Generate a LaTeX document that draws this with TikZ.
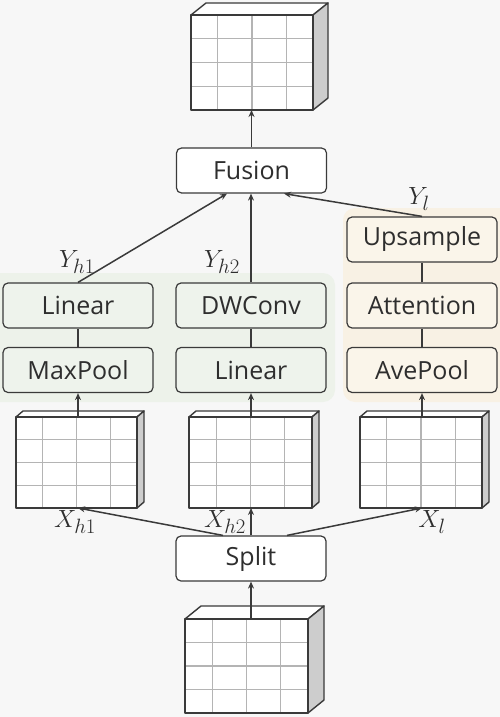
\documentclass[tikz,border=0pt]{standalone}
\usepackage{fontspec}
\setmainfont{Open Sans}
\usetikzlibrary{positioning, arrows.meta, calc}

\definecolor{pagebg}{HTML}{F7F7F7}
\definecolor{edgegray}{HTML}{3A3A3A}
\definecolor{textgray}{HTML}{2E2E2E}
\definecolor{gridgray}{HTML}{B4B4B4}
\definecolor{sidegray}{HTML}{CDCDCD}
\definecolor{greenbg}{HTML}{EDF2EA}
\definecolor{greenfill}{HTML}{EEF3EC}
\definecolor{beigebg}{HTML}{F8F1E4}
\definecolor{beigefill}{HTML}{FAF5EA}

\tikzset{
    cubeface/.style={rectangle, fill=white, inner sep=0pt, outer sep=0pt},
    gridline/.style={draw=gridgray, line width=1.1pt},
    cubeedge/.style={draw=edgegray, line width=1.4pt, line join=round}
}

% feature map block: name, centre, width, height, depth x, depth y
\newcommand{\featcube}[6]{%
    \node[cubeface, minimum width=#3pt, minimum height=#4pt] (#1) at #2 {};
    \filldraw[cubeedge, fill=white] (#1.north west) -- ++(#5,-#6) -- ++(#3,0)
        -- (#1.north east) -- cycle;
    \filldraw[cubeedge, fill=sidegray] (#1.north east) -- ++(#5,-#6) -- ++(0,#4)
        -- (#1.south east) -- cycle;
    \foreach \f in {0.22,0.5,0.78}
        \draw[gridline] ($(#1.north west)!\f!(#1.north east)$)
            -- ($(#1.south west)!\f!(#1.south east)$);
    \foreach \f in {0.25,0.5,0.75}
        \draw[gridline] ($(#1.north west)!\f!(#1.south west)$)
            -- ($(#1.north east)!\f!(#1.south east)$);
    \draw[cubeedge] (#1.north west) rectangle (#1.south east);
}

\begin{document}
\begin{tikzpicture}[
    x=1pt, y=-1pt,
    box/.style={
        rectangle,
        draw=edgegray,
        fill=white,
        minimum width=150pt,
        minimum height=45pt,
        rounded corners=5pt,
        line width=1.2pt,
        text=textgray,
        font=\fontsize{25}{29}\selectfont
    },
    greenbox/.style={box, fill=greenfill},
    beigebox/.style={box, fill=beigefill},
    link/.style={
        line width=1.5pt,
        color=edgegray
    },
    arrow/.style={
        link,
        -{Stealth[length=7pt, width=6pt]}
    },
    mathlbl/.style={
        text=textgray,
        font=\fontsize{28}{32}\selectfont,
        inner sep=1pt
    }
]

% Canvas and branch panels
\fill[pagebg] (0,0) rectangle (500,717);
\useasboundingbox (0,0) rectangle (500,717);
\fill[greenbg, rounded corners=12pt] (-12,273) rectangle (335,402);
\fill[beigebg, rounded corners=12pt] (343,208) rectangle (512,402);

% Feature maps
\featcube{outmap}{(252,62.5)}{122}{95}{15}{12}
\featcube{maph1}{(76.5,462.5)}{121}{91}{7}{6}
\featcube{maph2}{(250.5,462.5)}{123}{91}{7}{6}
\featcube{mapl}{(421,462.5)}{122}{91}{7}{6}
\featcube{inmap}{(246.5,666)}{123}{94}{16}{13}

% Blocks
\node[box]       (fusion) at (251.5,170.5) {Fusion};
\node[greenbox]  (lin1)   at (78,305.5)    {Linear};
\node[greenbox]  (maxp)   at (78,370)      {MaxPool};
\node[greenbox]  (dwc)    at (251,305.5)   {DWConv};
\node[greenbox]  (lin2)   at (251,370)     {Linear};
\node[beigebox]  (ups)    at (422,239.5)   {Upsample};
\node[beigebox]  (att)    at (422,305.5)   {Attention};
\node[beigebox]  (avep)   at (422,370)     {AvePool};
\node[box]       (split)  at (251,558.5)   {Split};

% Labels
\node[mathlbl] (yh1) at (77,262)  {$Y_{h1}$};
\node[mathlbl] (yh2) at (222,262) {$Y_{h2}$};
\node[mathlbl] (yl)  at (419,199) {$Y_l$};
\node[mathlbl] (xh1) at (75,522)  {$X_{h1}$};
\node[mathlbl] (xh2) at (225,522) {$X_{h2}$};
\node[mathlbl] (xl)  at (432,522) {$X_l$};

% Input -> Split -> branches
\draw[arrow] (split.south |- inmap.north) -- (split.south);
\draw[arrow] ([xshift=-28pt]split.north) -- (maxp.south |- maph1.south);
\draw[arrow] (split.north) -- (split.north |- maph2.south);
\draw[arrow] ([xshift=36pt]split.north) -- (avep.south |- mapl.south);

% Branch inputs
\draw[arrow] (maxp.south |- maph1.north) -- (maxp.south);
\draw[arrow] (lin2.south |- maph2.north) -- (lin2.south);
\draw[arrow] (avep.south |- mapl.north) -- (avep.south);

% Inside the branches
\draw[link] (maxp) -- (lin1);
\draw[link] (lin2) -- (dwc);
\draw[link] (avep) -- (att);
\draw[link] (att) -- (ups);

% Branches -> Fusion -> output
\draw[arrow] (lin1.north) -- ([xshift=-24.5pt]fusion.south);
\draw[arrow] (dwc.north) -- (dwc.north |- fusion.south);
\draw[arrow] (ups.north) -- ([xshift=32.5pt]fusion.south);
\draw[arrow] (fusion.north) -- (fusion.north |- outmap.south);

\end{tikzpicture}
\end{document}
